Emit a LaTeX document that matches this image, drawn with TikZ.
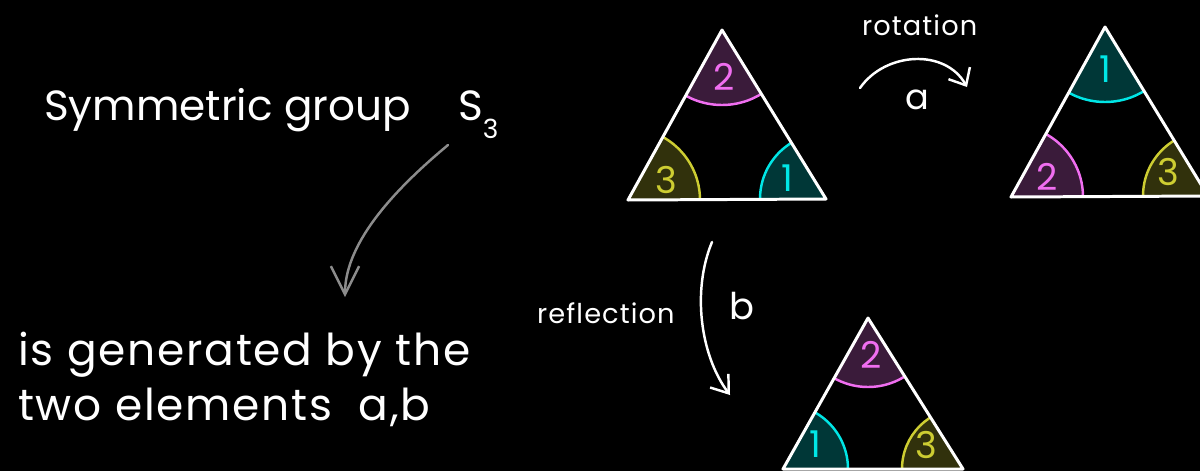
\documentclass[tikz,border=0pt]{standalone}
\usepackage{fontspec}
\setmainfont{Poppins}
\usepackage{tikz}
\usetikzlibrary{arrows.meta, positioning}
\definecolor{mymag}{RGB}{240, 110, 240}
\definecolor{mycyan}{RGB}{0, 230, 230}
\definecolor{myyel}{RGB}{205, 205, 50}
\definecolor{mygray}{RGB}{140, 140, 140}
% filled corner of a triangle: vertex, radius, colour
\newcommand{\angmark}[3]{%
  \fill[#3!24!black] (#1) circle (#2);
  \draw[#3, line width=1.4pt] (#1) circle (#2);}

\begin{document}
\begin{tikzpicture}[x=0.02cm, y=-0.02cm,
          tri/.style={draw=white, line width=1.7pt, line join=round},
          big/.style={text=white, font=\fontsize{24}{28}\selectfont},
          bigger/.style={text=white,
                         font=\fontsize{25}{28}\selectfont\addfontfeature{LetterSpace=4}},
          small/.style={text=white,
                        font=\fontsize{15.5}{16}\selectfont\addfontfeature{LetterSpace=4}},
          num/.style={font=\fontsize{21}{21}\selectfont, inner sep=0pt},
          hand/.style={white, line width=1.4pt, line cap=round}]
        \fill[black] (0,0) rectangle (1200,471);
        \useasboundingbox (0,0) rectangle (1200,471);
        \clip (0,0) rectangle (1200,471);
        % text on the left
        \node[big, anchor=base west] (sym) at (38,120) {Symmetric group};
        \node[big, anchor=base west] (s3) at (452,120)
          {S\raisebox{-0.45em}{\fontsize{15}{15}\selectfont 3}};
        \node[bigger, anchor=base west] (gen) at (12,365) {is generated by the};
        \node[bigger, anchor=base west] (two) at (12,420)
          {two elements\hspace{0.6em}a,b};
        \coordinate (g1) at (448,145);
        \coordinate (g2) at (345,297);
        \draw[mygray, line width=1.4pt, line cap=round,
              -{Straight Barb[length=16pt, width=16pt, line width=1.4pt]}]
          (g1) .. controls (400,185) and (345,240) .. (g2);
        % triangle before
        \coordinate (t1a) at (722,30);
        \coordinate (t1b) at (628,200);
        \coordinate (t1c) at (826,199);
        \begin{scope}
          \clip (t1a) -- (t1b) -- (t1c) -- cycle;
          \angmark{t1a}{75}{mymag}
          \angmark{t1b}{72}{myyel}
          \angmark{t1c}{66}{mycyan}
        \end{scope}
        \draw[tri] (t1a) -- (t1b) -- (t1c) -- cycle;
        \node[num, mymag] (t1n2) at (724,77) {2};
        \node[num, myyel] (t1n3) at (666,180) {3};
        \node[num, mycyan] (t1n1) at (787,178) {1};
        % rotation a
        \node[small, anchor=base west] (rot) at (856,35) {rotation};
        \coordinate (r1) at (860,88);
        \coordinate (r2) at (967,87);
        \draw[hand, -{Straight Barb[length=8pt, width=14pt, line width=1.4pt]}]
          (r1) .. controls (885,52) and (945,48) .. (r2);
        \node[text=white, font=\fontsize{20}{20}\selectfont] (a) at (917,100) {a};
        \coordinate (t2a) at (1105,27);
        \coordinate (t2b) at (1011,197);
        \coordinate (t2c) at (1208,196);
        \begin{scope}
          \clip (t2a) -- (t2b) -- (t2c) -- cycle;
          \angmark{t2a}{75}{mycyan}
          \angmark{t2b}{72}{mymag}
          \angmark{t2c}{65}{myyel}
        \end{scope}
        \draw[tri] (t2a) -- (t2b) -- (t2c) -- cycle;
        \node[num, mycyan] (t2n1) at (1105,69) {1};
        \node[num, mymag] (t2n2) at (1047,177) {2};
        \node[num, myyel] (t2n3) at (1168,172) {3};
        % reflection b
        \node[small, anchor=base west] (refl) at (531,323) {reflection};
        \coordinate (f1) at (712,242);
        \coordinate (f2) at (730,395);
        \draw[hand, -{Straight Barb[length=9pt, width=13pt, line width=1.4pt]}]
          (f1) .. controls (692,290) and (700,355) .. (f2);
        \node[text=white, font=\fontsize{21}{21}\selectfont] (b) at (742,306) {b};
        \coordinate (t3a) at (868,318);
        \coordinate (t3b) at (783,469);
        \coordinate (t3c) at (963,469);
        \begin{scope}
          \clip (t3a) -- (t3b) -- (t3c) -- cycle;
          \angmark{t3a}{69}{mymag}
          \angmark{t3b}{65}{mycyan}
          \angmark{t3c}{61}{myyel}
        \end{scope}
        \draw[tri] (t3a) -- (t3b) -- (t3c) -- cycle;
        \node[num, mymag] (t3n2) at (871,355) {2};
        \node[num, mycyan] (t3n1) at (815,444) {1};
        \node[num, myyel] (t3n3) at (926,445) {3};
      \end{tikzpicture}
\end{document}
